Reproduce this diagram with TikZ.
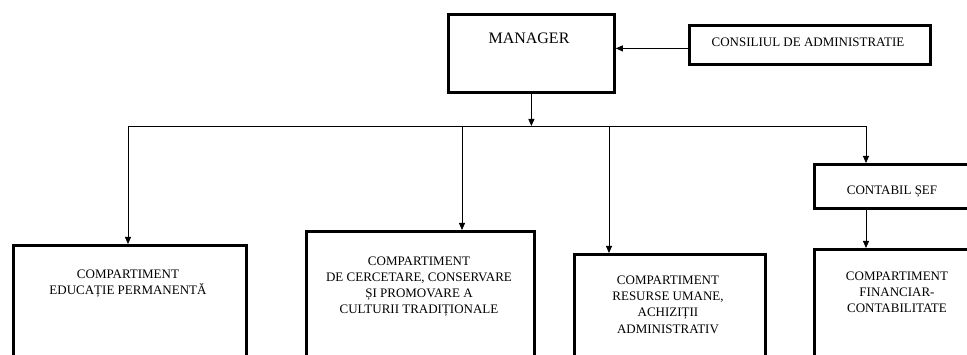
\documentclass[tikz,border=0pt]{standalone}
\usepackage{fontspec}
\setmainfont{Liberation Serif}
\usetikzlibrary{arrows.meta}
\begin{document}
\begin{tikzpicture}[x=1pt,y=-1pt,
  box/.style={draw, line width=2.8pt, anchor=north west, inner sep=0pt},
  lbl/.style={align=center, inner sep=0pt, font=\fontsize{13}{16.2}\selectfont},
  conn/.style={line width=0.8pt},
  arr/.style={conn, -{Triangle[length=7pt,width=6pt]}}]
\useasboundingbox (0,0) rectangle (967,355);
\clip (0,0) rectangle (967,355);
% boxes
\node[box, minimum width=166pt, minimum height=78pt] (mgr) at (447,13) {};
\node[box, minimum width=241pt, minimum height=39pt] (cons) at (688,24) {};
\node[box, minimum width=233pt, minimum height=140pt] (b1) at (12,244) {};
\node[box, minimum width=228pt, minimum height=150pt] (b2) at (305,230) {};
\node[box, minimum width=191pt, minimum height=130pt] (b3) at (573,253) {};
\node[box, minimum width=154pt, minimum height=44pt] (cont) at (813,163) {};
\node[box, minimum width=180pt, minimum height=130pt] (b4) at (813,248) {};
% texts
\node[lbl, font=\fontsize{16}{19}\selectfont] (tmgr) at (529,38) {MANAGER};
\node[lbl] (tcons) at (808,42) {CONSILIUL DE ADMINISTRATIE};
\node[lbl] (t1) at (128,283.5) {COMPARTIMENT\\EDUCAȚIE PERMANENTĂ};
\node[lbl] (t2) at (419,286.5) {COMPARTIMENT\\DE CERCETARE, CONSERVARE\\ȘI PROMOVARE A\\CULTURII TRADIȚIONALE};
\node[lbl] (t3) at (668,304.5) {COMPARTIMENT\\RESURSE UMANE,\\ACHIZIȚII\\ADMINISTRATIV};
\node[lbl] (tcont) at (892,192) {CONTABIL ȘEF};
\node[lbl] (t4) at (897,292) {COMPARTIMENT\\FINANCIAR-\\CONTABILITATE};
% connectors
\coordinate (bus) at (mgr.south |- 0,126);
\coordinate (d1) at (128,126);
\coordinate (d2) at (462,126);
\coordinate (d3) at (609,126);
\coordinate (d4) at (866,126);
\draw[arr] ([yshift=-3.5pt]cons.west) -- ([yshift=-3.5pt]cons.west -| mgr.east);
\draw[arr] (mgr.south) -- (bus);
\draw[conn] (d1) -- (d4);
\draw[arr] (d1) -- (d1 |- b1.north);
\draw[arr] (d2) -- (d2 |- b2.north);
\draw[arr] (d3) -- (d3 |- b3.north);
\draw[arr] (d4) -- (d4 |- cont.north);
\draw[arr] (d4 |- cont.south) -- (d4 |- b4.north);
\end{tikzpicture}
\end{document}
